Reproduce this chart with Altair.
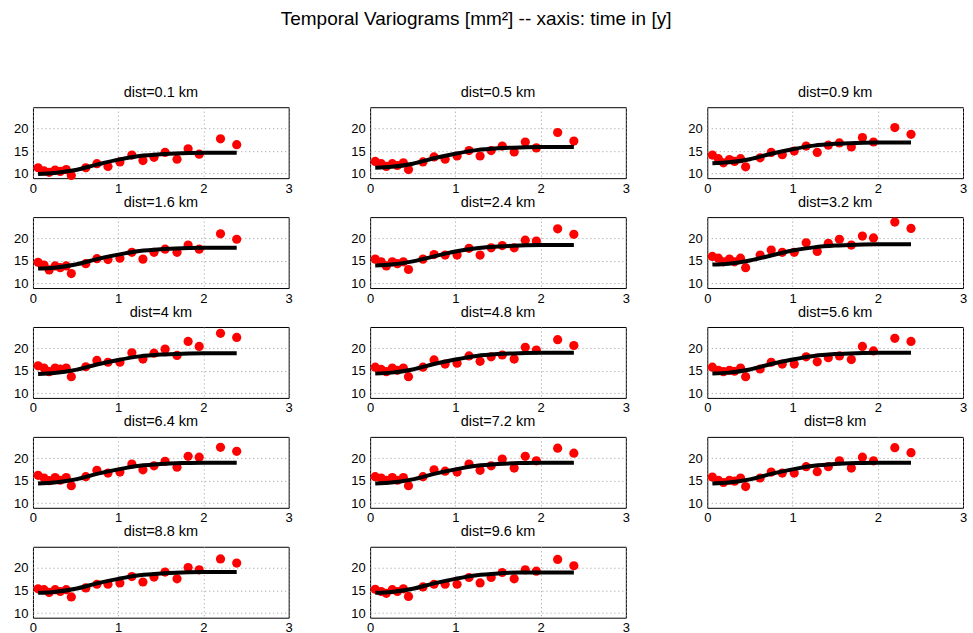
import altair as alt
import pandas as pd

FONT = "Liberation Sans"

# lag times [y] of the empirical variogram points
LAGS = [0.06, 0.13, 0.19, 0.26, 0.32, 0.39, 0.45, 0.62, 0.75, 0.88,
        1.02, 1.16, 1.29, 1.42, 1.55, 1.69, 1.82, 1.95, 2.20, 2.39]

# lag times of the fitted model curve
FIT_LAGS = [0.06, 0.25, 0.5, 0.75, 1.0, 1.25, 1.5, 1.75, 2.0, 2.39]

PANELS = ["dist=0.1 km", "dist=0.5 km", "dist=0.9 km",
          "dist=1.6 km", "dist=2.4 km", "dist=3.2 km",
          "dist=4 km", "dist=4.8 km", "dist=5.6 km",
          "dist=6.4 km", "dist=7.2 km", "dist=8 km",
          "dist=8.8 km", "dist=9.6 km"]

g_01 = [11.3, 10.6, 10.3, 10.8, 10.5, 10.9, 9.6, 11.3, 12.2, 11.6, 12.6, 14.1, 12.9, 13.6, 14.7, 13.2, 15.5, 14.3, 17.7, 16.4]
g_05 = [12.7, 12.2, 11.6, 12.2, 11.8, 12.4, 10.9, 12.6, 13.7, 13.2, 13.9, 15.1, 13.9, 15.1, 16.1, 14.8, 17.0, 15.7, 19.1, 17.2]
g_09 = [14.1, 13.3, 12.4, 13.1, 12.7, 13.3, 11.5, 13.5, 14.7, 14.2, 15.0, 16.1, 14.7, 16.3, 16.8, 15.9, 18.0, 17.0, 20.2, 18.7]
g_16 = [14.7, 14.1, 13.0, 13.9, 13.5, 13.9, 12.2, 14.4, 15.5, 15.3, 15.6, 16.9, 15.4, 16.9, 17.6, 16.9, 18.5, 17.6, 21.0, 19.8]
g_24 = [15.4, 14.8, 13.9, 14.8, 14.4, 14.8, 13.1, 15.4, 16.4, 16.3, 16.3, 17.8, 16.3, 17.9, 18.4, 17.9, 19.6, 19.4, 22.1, 20.9]
g_32 = [16.0, 15.6, 14.8, 15.4, 14.8, 15.6, 13.5, 16.3, 17.4, 16.9, 16.9, 19.0, 17.1, 18.9, 19.8, 18.5, 20.5, 20.1, 23.6, 22.2]
g_40 = [16.1, 15.6, 14.8, 15.6, 15.4, 15.6, 13.7, 15.9, 17.3, 16.9, 16.9, 19.0, 17.6, 18.9, 19.8, 18.4, 21.5, 20.4, 23.3, 22.4]
g_48 = [15.8, 15.3, 14.8, 15.6, 15.1, 15.6, 13.7, 15.8, 17.4, 16.5, 16.7, 18.3, 17.1, 18.1, 18.5, 17.6, 20.2, 19.6, 21.9, 20.6]
g_56 = [15.8, 15.1, 14.8, 15.1, 14.9, 15.6, 13.7, 15.4, 16.9, 16.5, 16.5, 18.1, 17.0, 17.9, 18.3, 17.5, 20.4, 19.4, 22.2, 21.5]
g_64 = [16.2, 15.6, 15.0, 15.7, 15.1, 15.7, 13.9, 15.9, 17.3, 16.7, 16.9, 18.7, 17.4, 18.3, 19.3, 18.0, 20.4, 20.2, 22.4, 21.5]
g_72 = [15.9, 15.6, 15.1, 15.7, 15.1, 15.7, 13.9, 15.9, 17.4, 17.1, 16.9, 18.7, 17.3, 18.3, 19.8, 17.8, 20.4, 19.4, 22.2, 21.1]
g_80 = [15.8, 15.1, 14.6, 15.1, 14.9, 15.6, 13.7, 15.6, 16.9, 16.7, 16.7, 18.1, 17.0, 18.1, 19.4, 17.8, 20.2, 19.4, 22.3, 21.2]
g_88 = [15.4, 15.2, 14.6, 15.2, 14.8, 15.2, 13.6, 15.6, 16.4, 16.4, 16.7, 18.1, 16.9, 18.0, 19.1, 17.6, 20.1, 19.6, 22.0, 21.1]
g_96 = [15.3, 14.8, 14.4, 15.2, 14.8, 15.4, 13.7, 15.8, 16.4, 16.4, 16.4, 17.9, 16.7, 17.9, 19.0, 17.6, 19.6, 19.3, 21.9, 20.5]

f_01 = [9.9, 10.15, 10.8, 12.0, 13.1, 13.9, 14.3, 14.5, 14.6, 14.6]
f_05 = [11.3, 11.5, 12.2, 13.4, 14.4, 15.2, 15.6, 15.8, 15.9, 15.9]
f_09 = [12.3, 12.5, 13.2, 14.4, 15.4, 16.2, 16.6, 16.8, 16.9, 16.9]
f_16 = [13.3, 13.5, 14.2, 15.4, 16.4, 17.2, 17.6, 17.8, 17.9, 17.9]
f_24 = [14.0, 14.2, 14.9, 16.0, 17.1, 17.8, 18.2, 18.4, 18.5, 18.5]
f_32 = [14.2, 14.4, 15.1, 16.2, 17.3, 18.0, 18.4, 18.6, 18.7, 18.7]
f_40 = [14.3, 14.5, 15.2, 16.4, 17.4, 18.2, 18.6, 18.8, 18.9, 18.9]
f_48 = [14.4, 14.6, 15.3, 16.5, 17.5, 18.3, 18.7, 18.9, 19.0, 19.0]
f_56 = [14.4, 14.6, 15.3, 16.5, 17.5, 18.3, 18.7, 18.9, 19.0, 19.0]
f_64 = [14.4, 14.6, 15.3, 16.5, 17.5, 18.3, 18.7, 18.9, 19.0, 19.0]
f_72 = [14.4, 14.6, 15.3, 16.5, 17.5, 18.3, 18.7, 18.9, 19.0, 19.0]
f_80 = [14.4, 14.6, 15.3, 16.5, 17.5, 18.3, 18.7, 18.9, 19.0, 19.0]
f_88 = [14.5, 14.7, 15.4, 16.6, 17.6, 18.4, 18.8, 19.0, 19.1, 19.1]
f_96 = [14.5, 14.7, 15.4, 16.6, 17.6, 18.4, 18.8, 19.0, 19.0, 19.0]

GAMMAS = [g_01, g_05, g_09, g_16, g_24, g_32, g_40, g_48, g_56, g_64, g_72, g_80, g_88, g_96]
FITS = [f_01, f_05, f_09, f_16, f_24, f_32, f_40, f_48, f_56, f_64, f_72, f_80, f_88, f_96]

X_DOMAIN = [0, 3]
Y_DOMAIN = [9, 24.7]

xenc = dict(scale=alt.Scale(domain=X_DOMAIN, nice=False, zero=False),
            axis=alt.Axis(values=[0, 1, 2, 3], title=None, format="d"))
yenc = dict(scale=alt.Scale(domain=Y_DOMAIN, nice=False, zero=False),
            axis=alt.Axis(values=[10, 15, 20], title=None, format="d"))


def panel(name, gam, fit):
    pts = pd.DataFrame({"lag": LAGS, "gamma": gam})
    ft = pd.DataFrame({"lag": FIT_LAGS, "gamma": fit})
    p = alt.Chart(pts).mark_circle(size=85, color="#ff0000", opacity=1).encode(
        x=alt.X("lag:Q", **xenc), y=alt.Y("gamma:Q", **yenc))
    l = alt.Chart(ft).mark_line(color="black", strokeWidth=4, interpolate="monotone").encode(
        x=alt.X("lag:Q", **xenc), y=alt.Y("gamma:Q", **yenc))
    return alt.layer(p, l).properties(
        width=256, height=71,
        title=alt.TitleParams(name, fontSize=14.5, font=FONT, fontWeight="normal",
                              color="black", offset=7))


charts = [panel(n, g, f) for n, g, f in zip(PANELS, GAMMAS, FITS)]

chart = alt.concat(*charts, columns=3, spacing={"row": 39, "column": 81.5}, bounds="flush").properties(
    title=alt.TitleParams("Temporal Variograms [mm²] -- xaxis: time in [y]", fontSize=19,
                          font=FONT, fontWeight="normal", color="black", offset=55,
                          anchor="middle", dx=-14),
    padding={"left": 13, "top": 10, "right": 5, "bottom": 5},
).configure_view(stroke="black", strokeWidth=1).configure_axis(
    grid=True, gridDash=[1, 3], gridColor="#9a9a9a", gridWidth=1,
    domain=False, ticks=False, labelFont=FONT, labelFontSize=13, labelColor="black",
).configure_axisX(labelPadding=4, labelFlush=False).configure_axisY(labelPadding=5)

chart.save("out.html", embed_options={"renderer": "svg", "actions": False})
